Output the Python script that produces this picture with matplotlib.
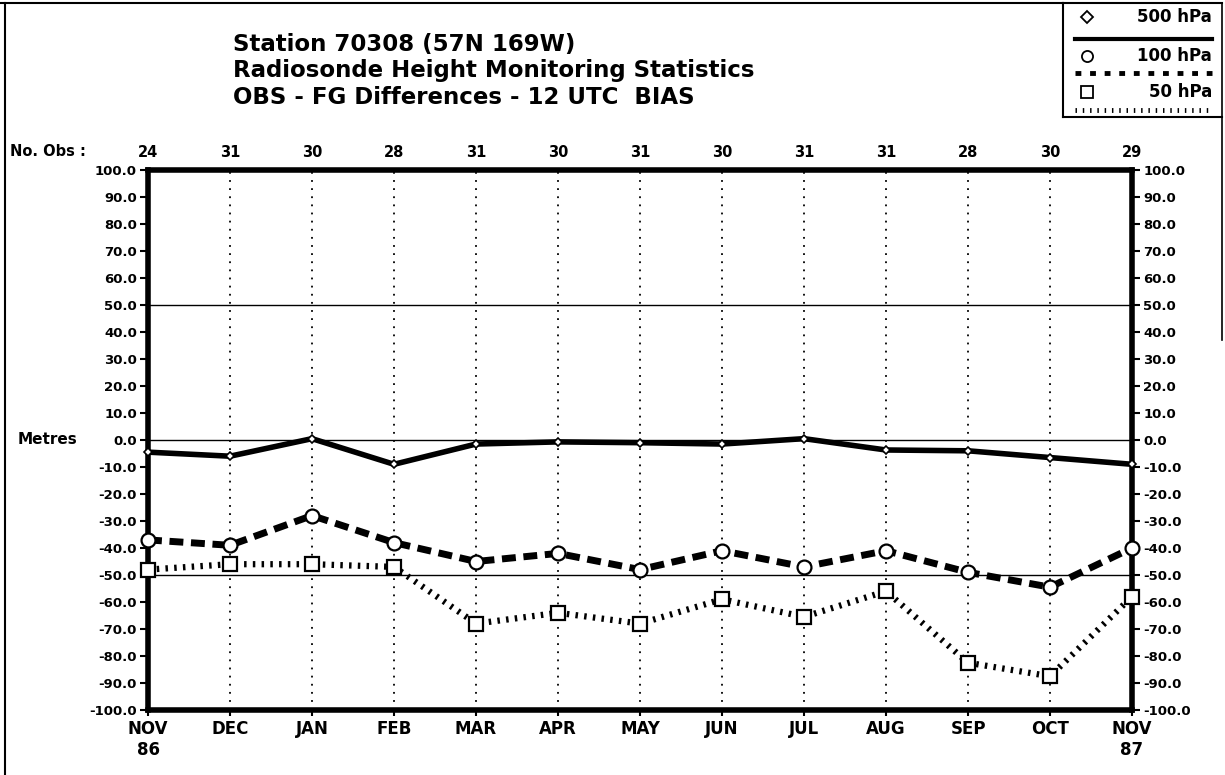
import numpy as np
import matplotlib
matplotlib.use('Agg')
from matplotlib import pyplot as plt
from matplotlib.lines import Line2D
import matplotlib.transforms as mtrans

plt.rcParams['font.family'] = ['DejaVu Sans']
plt.rcParams['font.weight'] = 'bold'

months = ['NOV\n86', 'DEC', 'JAN', 'FEB', 'MAR', 'APR', 'MAY', 'JUN',
          'JUL', 'AUG', 'SEP', 'OCT', 'NOV\n87']
n_obs = [24, 31, 30, 28, 31, 30, 31, 30, 31, 31, 28, 30, 29]

bias_500 = [-4.5, -6.0, 0.5, -9.0, -1.5, -0.7, -1.0, -1.5, 0.5, -3.7, -4.0, -6.5, -9.0]
bias_100 = [-37.0, -39.0, -28.0, -38.0, -45.0, -42.0, -48.0, -41.0, -47.0, -41.0, -49.0, -54.5, -40.0]
bias_50 = [-48.0, -46.0, -46.0, -47.0, -68.0, -64.0, -68.0, -59.0, -65.5, -56.0, -82.5, -87.5, -58.0]

yticks = np.arange(-100, 101, 10)

fig = plt.figure(figsize=(12.25, 7.75), dpi=100)
ax = fig.add_axes([148 / 1225, 1 - 710 / 775, (1132 - 148) / 1225, (710 - 170) / 775])

x = np.arange(len(months))

# reference lines
for yv in [50, 0, -50]:
	ax.axhline(yv, color='black', lw=1.0, zorder=1)
for xi in x[1:-1]:
	ax.axvline(xi, color='black', lw=1.3, linestyle=(0, (1, 3.5)), zorder=1)

ax.plot(x, bias_500, color='black', lw=4, solid_capstyle='butt', marker='D', clip_on=False,
	markersize=4.5, markerfacecolor='white', markeredgecolor='black', markeredgewidth=1.2, zorder=3)
ax.plot(x, bias_100, color='black', lw=5, linestyle=(0, (2.0, 1.1)), marker='o', clip_on=False,
	markersize=10, markerfacecolor='white', markeredgecolor='black', markeredgewidth=1.6, zorder=3)
ax.plot(x, bias_50, color='black', lw=4.5, linestyle=(0, (0.4, 1.0)), marker='s', clip_on=False,
	markersize=9.5, markerfacecolor='white', markeredgecolor='black', markeredgewidth=1.6, zorder=3)

ax.set_xlim(0, len(months) - 1)
ax.set_ylim(-100, 100)
ax.set_xticks(x)
ax.set_xticklabels(months, fontsize=12, fontweight='bold', linespacing=1.25)
ax.set_yticks(yticks)
ax.set_yticklabels(['%.1f' % v for v in yticks], fontsize=9.5, fontweight='bold')
ax.tick_params(axis='y', direction='out', length=6, width=1.5, left=True, right=True,
	labelleft=True, labelright=True, pad=2)
ax.tick_params(axis='x', direction='out', length=4, width=1.5, pad=3)
for sp in ax.spines.values():
	sp.set_linewidth(4)

ax.text(-0.133, 0.5, 'Metres', transform=ax.transAxes, fontsize=11, fontweight='bold',
	ha='left', va='center')

# number of observations above the plot
trans = mtrans.blended_transform_factory(ax.transData, ax.transAxes)
for xi, nv in zip(x, n_obs):
	ax.text(xi, 1.033, str(nv), transform=trans, ha='center', va='center', fontsize=10.5,
		fontweight='bold')
fig.text(10 / 1225, 1 - 152 / 775, 'No. Obs :', ha='left', va='center', fontsize=10.5,
	fontweight='bold')

# title
title_lines = ['Station 70308 (57N 169W)', 'Radiosonde Height Monitoring Statistics',
	'OBS - FG Differences - 12 UTC  BIAS']
for line, ty in zip(title_lines, [45, 71, 97]):
	fig.text(233 / 1225, 1 - ty / 775, line, fontsize=16.5, fontweight='bold', ha='left', va='center')

# page frame
def fline(xs, ys, **kw):
	fig.add_artist(Line2D([v / 1225 for v in xs], [1 - v / 775 for v in ys], color='black', **kw))

fline([5, 5], [3, 775], lw=1.5)
fline([0, 1063], [3, 3], lw=1.5)
fline([1222, 1222], [3, 340], lw=1.2)

# legend box
fline([1063, 1063], [3, 117], lw=1.5)
fline([1063, 1222], [117, 117], lw=1.5)
fline([1063, 1222], [3, 3], lw=1.5)
leg = [('500 hPa', 'D', 6, '-', 17, 39), ('100 hPa', 'o', 8, (0, (1.2, 1.8)), 56, 73),
	('50 hPa', 's', 8, (0, (0.3, 1.2)), 92, 110)]
for label, mk, ms, ls, ty, ly in leg:
	fig.add_artist(Line2D([1087 / 1225], [1 - ty / 775], marker=mk, markersize=ms,
		markerfacecolor='white', markeredgecolor='black', markeredgewidth=1.3, linestyle='none'))
	fig.text(1212 / 1225, 1 - ty / 775, label, ha='right', va='center', fontsize=12,
		fontweight='bold')
	fline([1075, 1212], [ly, ly], lw=3 if ls == '-' else 3.5, linestyle=ls)

fig.savefig('out.png', dpi=100)
